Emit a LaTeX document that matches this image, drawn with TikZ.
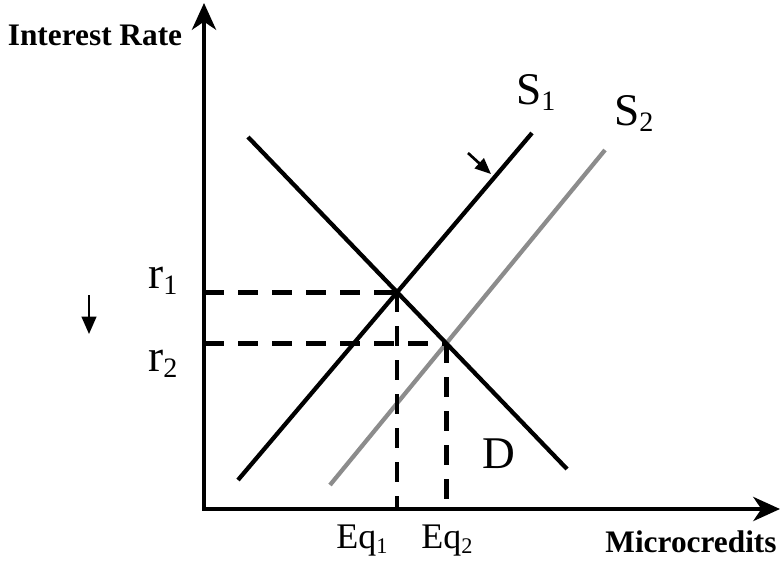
\documentclass[tikz,border=0pt]{standalone}
\usepackage{fontspec}
\setmainfont{Liberation Serif}
\usetikzlibrary{arrows.meta}
\newcommand\lsub[1]{\raisebox{-0.14em}{\scalebox{0.62}{#1}}}
\begin{document}
\begin{tikzpicture}[x=0.75pt,y=-0.75pt,
  axis/.style={line width=3.2pt, line join=miter,
    {Stealth[length=20pt,width=18pt,inset=6pt]}-{Stealth[length=20pt,width=18pt,inset=6pt]}},
  curve/.style={line width=3.2pt},
  graycurve/.style={line width=3.2pt, draw=black!45},
  guide/.style={line width=3.4pt, dash pattern=on 15pt off 10.5pt},
  smallarrow/.style={line width=2pt, -{Triangle[length=12pt,width=10pt]}},
  downarrow/.style={line width=1.6pt, -{Triangle[length=13pt,width=11pt]}},
  lab/.style={font=\fontsize{34}{38}\selectfont, inner sep=0pt, anchor=base west},
  eqlab/.style={font=\fontsize{27}{31}\selectfont, inner sep=0pt, anchor=base west},
  axlab/.style={font=\bfseries\fontsize{23.5}{27}\selectfont, inner sep=0pt, anchor=base},
]
\useasboundingbox (0,0) rectangle (782,561);
% axes
\coordinate (O) at (204,509);
\coordinate (ytip) at (204,3);
\coordinate (xtip) at (780,509);
\draw[axis] (ytip) -- (O) -- (xtip);
% curves
\coordinate (S1a) at (238,480);
\coordinate (S1b) at (532,133);
\coordinate (S2a) at (330,485);
\coordinate (S2b) at (605,150);
\coordinate (Da) at (248,137);
\coordinate (Db) at (567,469);
\draw[graycurve] (S2a) -- (S2b);
\draw[curve] (S1a) -- (S1b);
\draw[curve] (Da) -- (Db);
% equilibria
\coordinate (E1) at (intersection of S1a--S1b and Da--Db);
\coordinate (E2) at (intersection of S2a--S2b and Da--Db);
\draw[guide] (E1 -| O) -- (E1);
\draw[guide] (E2 -| O) -- (E2);
\draw[guide] (E1) -- (E1 |- O);
\draw[guide] (E2) -- (E2 |- O);
% small arrows
\coordinate (sa1) at (468,153);
\coordinate (sa2) at (491,174);
\draw[smallarrow] (sa1) -- (sa2);
\coordinate (da1) at (89,295);
\coordinate (da2) at (89,334);
\draw[downarrow] (da1) -- (da2);
% labels
\node[axlab] (ylab) at (95,45) {Interest Rate};
\node[axlab] (xlab) at (691,552) {Microcredits};
\node[lab] (s1lab) at (516,104) {S\lsub{1}};
\node[lab] (s2lab) at (614,125) {S\lsub{2}};
\node[lab] (dlab) at (482,468) {D};
\node[lab] (r1lab) at (148,288) {r\lsub{1}};
\node[lab] (r2lab) at (148,371) {r\lsub{2}};
\node[eqlab] (eq1lab) at (336,548) {Eq\lsub{1}};
\node[eqlab] (eq2lab) at (421,548) {Eq\lsub{2}};
\end{tikzpicture}
\end{document}
